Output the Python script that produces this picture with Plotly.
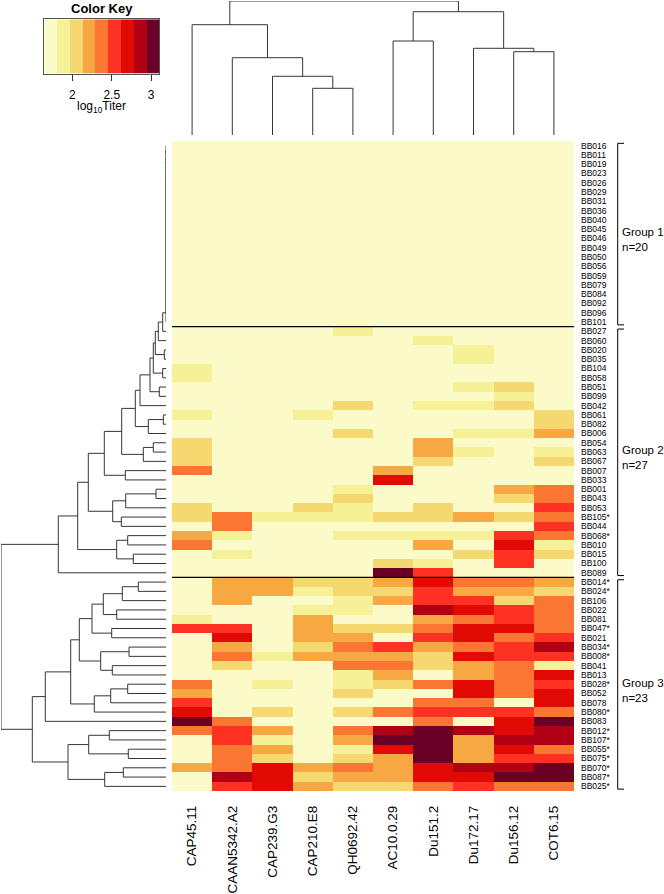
import plotly.graph_objects as go

# ---------------- data ----------------
col_labels = ["CAP45.11", "CAAN5342.A2", "CAP239.G3", "CAP210.E8", "QH0692.42",
              "AC10.0.29", "Du151.2", "Du172.17", "Du156.12", "COT6.15"]

group1_labels = ["BB016", "BB011", "BB019", "BB023", "BB026", "BB029", "BB031", "BB036",
                 "BB040", "BB045", "BB046", "BB049", "BB050", "BB056", "BB059", "BB079",
                 "BB084", "BB092", "BB096", "BB101"]
group2_labels = ["BB027", "BB060", "BB020", "BB035", "BB104", "BB058", "BB051", "BB099",
                 "BB042", "BB061", "BB082", "BB006", "BB054", "BB063", "BB067", "BB007",
                 "BB033", "BB001", "BB043", "BB053", "BB105*", "BB044", "BB068*", "BB010",
                 "BB015", "BB100", "BB089"]
group3_labels = ["BB014*", "BB024*", "BB106", "BB022", "BB081", "BB047*", "BB021", "BB034*",
                 "BB008*", "BB041", "BB013", "BB028*", "BB052", "BB078", "BB080*", "BB083",
                 "BB012*", "BB107*", "BB055*", "BB075*", "BB070*", "BB087*", "BB025*"]

# colour-key class (0..8) of each cell
group1_bins = [
    [0, 0, 0, 0, 0, 0, 0, 0, 0, 0], [0, 0, 0, 0, 0, 0, 0, 0, 0, 0],
    [0, 0, 0, 0, 0, 0, 0, 0, 0, 0], [0, 0, 0, 0, 0, 0, 0, 0, 0, 0],
    [0, 0, 0, 0, 0, 0, 0, 0, 0, 0], [0, 0, 0, 0, 0, 0, 0, 0, 0, 0],
    [0, 0, 0, 0, 0, 0, 0, 0, 0, 0], [0, 0, 0, 0, 0, 0, 0, 0, 0, 0],
    [0, 0, 0, 0, 0, 0, 0, 0, 0, 0], [0, 0, 0, 0, 0, 0, 0, 0, 0, 0],
    [0, 0, 0, 0, 0, 0, 0, 0, 0, 0], [0, 0, 0, 0, 0, 0, 0, 0, 0, 0],
    [0, 0, 0, 0, 0, 0, 0, 0, 0, 0], [0, 0, 0, 0, 0, 0, 0, 0, 0, 0],
    [0, 0, 0, 0, 0, 0, 0, 0, 0, 0], [0, 0, 0, 0, 0, 0, 0, 0, 0, 0],
    [0, 0, 0, 0, 0, 0, 0, 0, 0, 0], [0, 0, 0, 0, 0, 0, 0, 0, 0, 0],
    [0, 0, 0, 0, 0, 0, 0, 0, 0, 0], [0, 0, 0, 0, 0, 0, 0, 0, 0, 0],
]
group2_bins = [
    [0, 0, 0, 0, 1, 0, 0, 0, 0, 0],
    [0, 0, 0, 0, 0, 0, 1, 0, 0, 0],
    [0, 0, 0, 0, 0, 0, 0, 1, 0, 0],
    [0, 0, 0, 0, 0, 0, 0, 1, 0, 0],
    [1, 0, 0, 0, 0, 0, 0, 0, 0, 0],
    [1, 0, 0, 0, 0, 0, 0, 0, 0, 0],
    [0, 0, 0, 0, 0, 0, 0, 1, 2, 0],
    [0, 0, 0, 0, 0, 0, 0, 0, 1, 0],
    [0, 0, 0, 0, 2, 0, 1, 1, 2, 0],
    [1, 0, 0, 1, 0, 0, 0, 0, 0, 2],
    [0, 0, 0, 0, 0, 0, 0, 0, 0, 2],
    [0, 0, 0, 0, 2, 0, 0, 1, 1, 3],
    [2, 0, 0, 0, 0, 0, 3, 0, 0, 0],
    [2, 0, 0, 0, 0, 0, 3, 1, 0, 1],
    [2, 0, 0, 0, 0, 0, 2, 0, 0, 2],
    [4, 0, 0, 0, 0, 3, 0, 0, 0, 0],
    [0, 0, 0, 0, 0, 6, 0, 0, 0, 0],
    [0, 0, 0, 0, 1, 0, 0, 0, 3, 4],
    [0, 0, 0, 0, 2, 0, 0, 0, 2, 4],
    [2, 0, 0, 2, 1, 0, 2, 0, 0, 5],
    [2, 4, 1, 1, 1, 2, 2, 3, 2, 4],
    [0, 4, 0, 0, 0, 0, 0, 0, 0, 5],
    [3, 1, 0, 0, 1, 1, 1, 1, 5, 4],
    [4, 0, 0, 0, 0, 0, 3, 0, 6, 1],
    [0, 1, 0, 0, 0, 0, 0, 2, 5, 2],
    [0, 0, 0, 0, 0, 2, 1, 0, 5, 0],
    [0, 0, 0, 0, 0, 8, 5, 0, 0, 0],
]
group3_bins = [
    [0, 3, 3, 2, 2, 3, 6, 4, 4, 3],
    [0, 3, 3, 1, 2, 2, 5, 3, 3, 2],
    [0, 3, 0, 0, 1, 3, 5, 5, 2, 4],
    [0, 0, 0, 1, 1, 0, 7, 6, 5, 4],
    [1, 0, 0, 3, 0, 0, 3, 4, 5, 4],
    [5, 5, 0, 3, 2, 2, 4, 6, 6, 4],
    [0, 6, 0, 3, 3, 0, 5, 6, 4, 5],
    [0, 3, 0, 2, 4, 5, 3, 4, 5, 7],
    [0, 4, 1, 3, 3, 3, 2, 6, 5, 5],
    [0, 2, 0, 0, 4, 4, 2, 3, 4, 1],
    [0, 0, 0, 0, 1, 3, 0, 3, 4, 6],
    [4, 0, 1, 0, 1, 2, 4, 6, 4, 5],
    [3, 0, 0, 0, 2, 0, 0, 6, 4, 6],
    [5, 0, 0, 0, 0, 0, 4, 4, 0, 6],
    [6, 0, 2, 0, 2, 4, 5, 5, 5, 4],
    [8, 4, 0, 0, 0, 0, 4, 0, 6, 8],
    [4, 5, 3, 0, 4, 7, 8, 7, 6, 7],
    [0, 5, 1, 0, 3, 8, 8, 3, 7, 7],
    [0, 4, 3, 0, 1, 6, 8, 3, 6, 4],
    [0, 4, 2, 0, 2, 3, 8, 3, 5, 5],
    [3, 4, 6, 3, 4, 3, 6, 7, 7, 8],
    [0, 7, 6, 2, 3, 3, 6, 6, 8, 8],
    [0, 5, 6, 3, 2, 2, 4, 5, 4, 4],
]

key_breaks = [1.644, 1.806, 1.968, 2.129, 2.291, 2.453, 2.615, 2.777, 2.938, 3.100]
key_ticks = [2, 2.5, 3]
key_tick_text = ["2", "2.5", "3"]
key_colors = ["#FBFBCA", "#F6F096", "#F6D870", "#F8A843", "#FA7632",
              "#FE3222", "#E10A04", "#B10015", "#6B0026"]

group_names = ["Group 1", "Group 2", "Group 3"]

# column dendrogram merges: (node, left, right, height)
col_merges = [
    ("c34", "CAP210.E8", "QH0692.42", 46.7),
    ("c234", "CAP239.G3", "c34", 58.7),
    ("c1234", "CAAN5342.A2", "c234", 77.3),
    ("cA", "CAP45.11", "c1234", 110.3),
    ("c56", "AC10.0.29", "Du151.2", 94.0),
    ("c89", "Du156.12", "COT6.15", 83.3),
    ("c789", "Du172.17", "c89", 86.7),
    ("cB", "c56", "c789", 123.3),
    ("croot", "cA", "cB", 134.0),
]

# row dendrogram: group 1 rows join in a chain at these heights
group1_chain_heights = [0, 0, 0, 0, 0, 0, 0, 0, 0, 0, 0, 0, 0, 0, 0, 0, 0, 0, 0]
row_merges = [
    ("n1", "G1", "BB027", 3.3),
    ("n2", "n1", "BB060", 7.7),
    ("n3", "BB020", "BB035", 1.7),
    ("n4", "n2", "n3", 10.7),
    ("n5", "BB104", "BB058", 3.3),
    ("n6", "n4", "n5", 12.7),
    ("n7", "BB051", "BB099", 6.7),
    ("n8", "n6", "n7", 16.0),
    ("n9", "n8", "BB042", 26.0),
    ("n10", "BB061", "BB082", 2.7),
    ("n11", "n10", "BB006", 17.7),
    ("n12", "n9", "n11", 30.7),
    ("n13", "BB054", "BB063", 12.7),
    ("n14", "n13", "BB067", 22.7),
    ("n15", "n12", "n14", 44.3),
    ("n16", "BB007", "BB033", 40.7),
    ("n17", "n15", "n16", 61.7),
    ("n18", "BB001", "BB043", 10.0),
    ("n19", "n18", "BB053", 40.3),
    ("n20", "BB105*", "BB044", 44.7),
    ("n21", "n19", "n20", 53.3),
    ("n22", "n17", "n21", 77.7),
    ("n23", "BB068*", "BB010", 38.3),
    ("n24", "BB015", "BB100", 32.7),
    ("n25", "n23", "n24", 49.3),
    ("n26", "n22", "n25", 88.3),
    ("n27", "n26", "BB089", 107.7),
    ("g1", "BB014*", "BB024*", 27.7),
    ("g2", "g1", "BB106", 43.7),
    ("g3", "BB022", "BB081", 49.3),
    ("g4", "g2", "g3", 62.7),
    ("g5", "BB047*", "BB021", 54.3),
    ("g6", "g4", "g5", 74.0),
    ("g7", "BB034*", "BB008*", 37.0),
    ("g8", "BB041", "BB013", 53.7),
    ("g9", "g7", "g8", 65.3),
    ("g10", "g6", "g9", 86.7),
    ("g11", "BB028*", "BB052", 38.3),
    ("g12", "g11", "BB078", 55.3),
    ("g13", "g12", "BB080*", 71.7),
    ("g14", "g10", "g13", 95.3),
    ("g15", "g14", "BB083", 120.7),
    ("g16", "BB012*", "BB107*", 56.7),
    ("g17", "BB055*", "BB075*", 37.7),
    ("g18", "g16", "g17", 77.3),
    ("g19", "BB070*", "BB087*", 42.7),
    ("g20", "g19", "BB025*", 61.3),
    ("g21", "g18", "g20", 98.0),
    ("g22", "g15", "g21", 133.7),
    ("root", "n27", "g22", 165.0),
]

# ---------------- build ----------------
row_labels = group1_labels + group2_labels + group3_labels
bins = group1_bins + group2_bins + group3_bins
n_rows = len(row_labels)
n_cols = len(col_labels)

# group-1 chain merges
chain = []
prev = group1_labels[0]
for k, (lab, h) in enumerate(zip(group1_labels[1:], group1_chain_heights)):
    name = "G1" if k == len(group1_labels) - 2 else f"G1_{k}"
    chain.append((name, prev, lab, h))
    prev = name
all_row_merges = chain + row_merges


def dendro_lines(merges, leaf_order):
    pos = {lab: float(i) for i, lab in enumerate(leaf_order)}
    hgt = {lab: 0.0 for lab in leaf_order}
    P, H = [], []
    for name, a, b, h in merges:
        pa, pb = pos[a], pos[b]
        P += [pa, pa, pb, pb, None]
        H += [hgt[a], h, h, hgt[b], None]
        pos[name] = (pa + pb) / 2
        hgt[name] = h
    return P, H


row_P, row_H = dendro_lines(all_row_merges, row_labels)
col_P, col_H = dendro_lines(col_merges, col_labels)

ncls = len(key_colors)
colorscale = []
for k, c in enumerate(key_colors):
    colorscale.append([k / ncls, c])
    colorscale.append([(k + 1) / ncls, c])

W, Hh = 664, 894
def px_x(a, b):
    return [a / W, b / W]
def px_y(top, bottom):
    return [(Hh - bottom) / Hh, (Hh - top) / Hh]

FONT = "Liberation Sans, Arial, Helvetica, sans-serif"
LINE = "#363636"

fig = go.Figure()

fig.add_trace(go.Heatmap(
    z=bins, x=list(range(n_cols)), y=list(range(n_rows)),
    colorscale=colorscale, zmin=-0.5, zmax=ncls - 0.5, showscale=False,
    xaxis="x", yaxis="y", hoverinfo="skip"))

fig.add_trace(go.Scatter(x=col_P, y=col_H, mode="lines", line=dict(color=LINE, width=1),
                         xaxis="x2", yaxis="y2", cliponaxis=False, hoverinfo="skip"))
fig.add_trace(go.Scatter(x=row_H, y=row_P, mode="lines", line=dict(color=LINE, width=1),
                         xaxis="x3", yaxis="y3", cliponaxis=False, hoverinfo="skip"))

fig.add_trace(go.Heatmap(
    z=[list(range(ncls))], x=key_breaks, y=[0, 1],
    colorscale=colorscale, zmin=-0.5, zmax=ncls - 0.5, showscale=False,
    xaxis="x4", yaxis="y4", hoverinfo="skip"))

hm_x = px_x(172, 574)
hm_y = px_y(141, 791)

fig.update_layout(
    width=W, height=Hh, margin=dict(l=0, r=0, t=0, b=0),
    paper_bgcolor="white", plot_bgcolor="white", showlegend=False,
    font=dict(family=FONT, color="black"),
    xaxis=dict(domain=hm_x, range=[-0.5, n_cols - 0.5], tickmode="array",
               tickvals=list(range(n_cols)), ticktext=col_labels, tickangle=-90,
               ticks="", showgrid=False, zeroline=False, showline=False,
               tickfont=dict(size=13.5, family=FONT, color="black"),
               ticklabelstandoff=11, anchor="y"),
    yaxis=dict(domain=hm_y, range=[n_rows - 0.5, -0.5], tickmode="array",
               tickvals=list(range(n_rows)), ticktext=row_labels, side="right",
               ticks="", showgrid=False, zeroline=False, showline=False,
               tickfont=dict(size=8.5, family=FONT, color="black"),
               ticklabelstandoff=6, anchor="x"),
    xaxis2=dict(domain=hm_x, range=[-0.5, n_cols - 0.5], visible=False, anchor="y2"),
    yaxis2=dict(domain=px_y(1, 135), range=[0, 134], visible=False, anchor="x2"),
    xaxis3=dict(domain=px_x(1, 166), range=[165, 0], visible=False, anchor="y3"),
    yaxis3=dict(domain=hm_y, range=[n_rows - 0.5, -0.5], visible=False, anchor="x3"),
    xaxis4=dict(domain=px_x(44.3, 159), range=[key_breaks[0], key_breaks[-1]],
                tickmode="array", tickvals=key_ticks, ticktext=key_tick_text,
                ticks="outside", ticklen=6, tickcolor="#333", showline=True,
                linecolor="#555", mirror=True, showgrid=False, zeroline=False,
                tickfont=dict(size=12, family=FONT, color="black"),
                ticklabelstandoff=4, anchor="y4"),
    yaxis4=dict(domain=px_y(19.3, 73.7), range=[0, 1], showticklabels=False, ticks="",
                showline=True, linecolor="#555", mirror=True, showgrid=False,
                zeroline=False, anchor="x4"),
)

# group separator lines and brackets
shapes = []
annots = []
sizes = [len(group1_labels), len(group2_labels), len(group3_labels)]
start = 0
for gi, (gname, n) in enumerate(zip(group_names, sizes)):
    end = start + n - 1
    if gi > 0:
        shapes.append(dict(type="line", xref="x", yref="y", x0=-0.5, x1=n_cols - 0.5,
                           y0=start - 0.5, y1=start - 0.5, line=dict(color="black", width=1.2)))
    top, bot = start - 0.25, end + 0.3
    bx0, bx1 = 617.7 / W, 624 / W
    shapes.append(dict(type="line", xref="paper", yref="y", x0=bx0, x1=bx0, y0=top, y1=bot,
                       line=dict(color="black", width=1)))
    shapes.append(dict(type="line", xref="paper", yref="y", x0=bx0, x1=bx1, y0=top, y1=top,
                       line=dict(color="black", width=1)))
    shapes.append(dict(type="line", xref="paper", yref="y", x0=bx0, x1=bx1, y0=bot, y1=bot,
                       line=dict(color="black", width=1)))
    annots.append(dict(xref="paper", yref="y", x=619.5 / W, y=(top + bot) / 2 + 0.6,
                       text=f"{gname}<br>n={n}", showarrow=False, xanchor="left",
                       yanchor="middle", align="left",
                       font=dict(size=11.5, family=FONT, color="black")))
    start = end + 1

annots.append(dict(xref="paper", yref="paper", x=101.7 / W, y=(Hh - 8) / Hh,
                   text="<b>Color Key</b>", showarrow=False, xanchor="center", yanchor="middle",
                   font=dict(size=13, family=FONT, color="black")))
annots.append(dict(xref="paper", yref="paper", x=101.7 / W, y=(Hh - 107) / Hh,
                   text="log<sub>10</sub>Titer", showarrow=False, xanchor="center",
                   yanchor="middle", font=dict(size=12, family=FONT, color="black")))

fig.update_layout(shapes=shapes, annotations=annots)

fig.write_html("out.html", config={"displayModeBar": False},
               post_script="document.body.style.margin='0';document.body.style.overflow='hidden';")
